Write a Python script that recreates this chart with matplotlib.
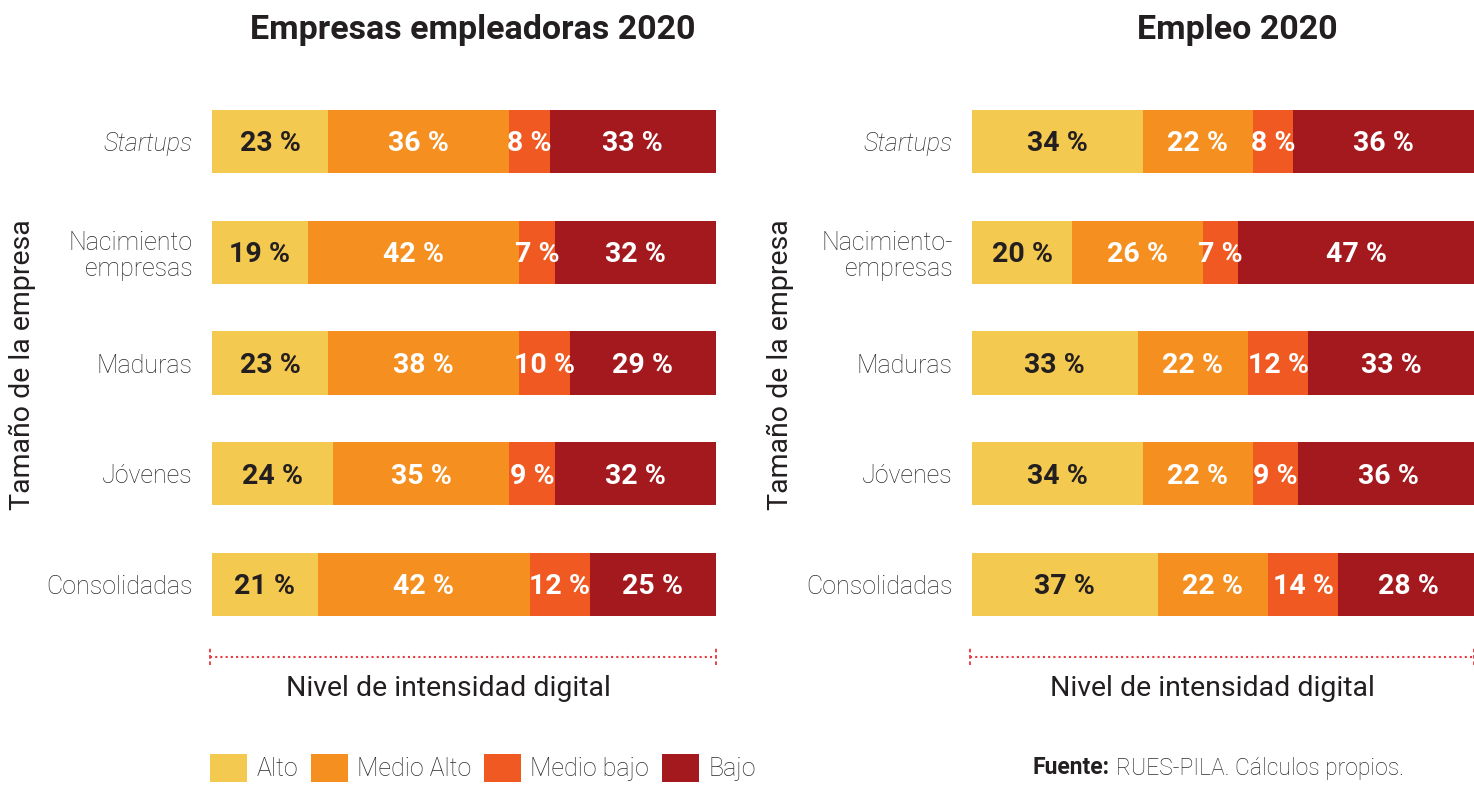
import matplotlib
matplotlib.use("Agg")
import matplotlib.pyplot as plt
from matplotlib.patches import Patch
import matplotlib.transforms as mtransforms

# ---- data ----
categories = ["Startups", "Nacimiento\nempresas", "Maduras", "Jóvenes", "Consolidadas"]
categories_right = ["Startups", "Nacimiento-\nempresas", "Maduras", "Jóvenes", "Consolidadas"]
levels = ["Alto", "Medio Alto", "Medio bajo", "Bajo"]

emp_alto = [23, 19, 23, 24, 21]
emp_medio_alto = [36, 42, 38, 35, 42]
emp_medio_bajo = [8, 7, 10, 9, 12]
emp_bajo = [33, 32, 29, 32, 25]

empleo_alto = [34, 20, 33, 34, 37]
empleo_medio_alto = [22, 26, 22, 22, 22]
empleo_medio_bajo = [8, 7, 12, 9, 14]
empleo_bajo = [36, 47, 33, 36, 28]

colors = ["#F4C950", "#F58F1F", "#F05A22", "#A3191E"]
text_colors = ["#231F20", "white", "white", "white"]

plt.rcParams['font.family'] = ['Roboto', 'DejaVu Sans']

fig = plt.figure(figsize=(14.74, 7.85), dpi=100)
W, H = 1474, 785

def axes_px(x0, x1, y0, y1):
    return fig.add_axes([x0 / W, 1 - y1 / H, (x1 - x0) / W, (y1 - y0) / H])

ax1 = axes_px(212, 716, 86, 640)
ax2 = axes_px(972, 1474, 86, 640)

def draw(ax, series, cats, title, title_x):
    left = [0] * len(cats)
    ypos = list(range(len(cats)))
    for i, vals in enumerate(series):
        ax.barh(ypos, vals, left=left, height=0.57, color=colors[i], edgecolor='none')
        for y, v, l in zip(ypos, vals, left):
            ax.text(l + v / 2, y + 0.02, f"{v} %", ha='center', va='center',
                    color=text_colors[i], fontsize=20.5, fontweight='bold')
        left = [a + b for a, b in zip(left, vals)]
    ax.set_xlim(0, 100)
    ax.set_ylim(4.5, -0.5)
    ax.set_yticks(ypos)
    ax.set_yticklabels(cats, fontsize=18, color='#2a2a2a', linespacing=1.1,
                       fontweight='light')
    ax.get_yticklabels()[0].set_fontstyle('italic')
    ax.tick_params(axis='y', length=0, pad=14)
    ax.set_xticks([])
    for s in ax.spines.values():
        s.set_visible(False)
    ax.patch.set_alpha(0)
    # dotted bracket line
    tr = mtransforms.blended_transform_factory(ax.transData, ax.transAxes)
    ax.plot([-0.4, 100], [-0.03, -0.03], transform=tr, color='#E8383D',
            linestyle=(0, (1, 1.5)), linewidth=1.5, clip_on=False)
    for xx in [-0.4, 100]:
        ax.plot([xx, xx], [-0.045, -0.015], transform=tr, color='#E8383D',
                linestyle=(0, (2, 1.5)), linewidth=1.3, clip_on=False)
    fig.text(title_x / W, 1 - 30 / H, title, ha='center', va='center',
             fontsize=24.5, fontweight='bold', color='#231F20')

draw(ax1, [emp_alto, emp_medio_alto, emp_medio_bajo, emp_bajo], categories,
     "Empresas empleadoras 2020", 473)
draw(ax2, [empleo_alto, empleo_medio_alto, empleo_medio_bajo, empleo_bajo], categories_right,
     "Empleo 2020", 1237)

# axis titles
for xc in [448, 1212]:
    fig.text(xc / W, 1 - 688 / H, "Nivel de intensidad digital", ha='center', va='center',
             fontsize=20.5, color='#231F20')
for xc in [22, 780]:
    fig.text(xc / W, 1 - 365 / H, "Tamaño de la empresa", ha='center', va='center',
             rotation=90, fontsize=20.5, color='#231F20')

# legend
handles = [Patch(facecolor=c, edgecolor='none') for c in colors]
leg = fig.legend(handles, levels, loc='center left', bbox_to_anchor=(210 / W, 1 - 768 / H),
                 ncol=4, frameon=False, fontsize=18, handlelength=1.5, handleheight=1.3,
                 handletextpad=0.36, columnspacing=0.5, labelcolor='#2a2a2a',
                 borderpad=0, borderaxespad=0)
for t in leg.get_texts():
    t.set_fontweight('light')

t1 = fig.text(1033 / W, 1 - 768 / H, "Fuente:", ha='left', va='center', fontsize=16.5,
              fontweight='bold', color='#231F20')
fig.canvas.draw()
bb = t1.get_window_extent()
fig.text((bb.x1 + 6) / W, 1 - 768 / H, "RUES-PILA. Cálculos propios.", ha='left', va='center',
         fontsize=16.5, fontweight='light', color='#2a2a2a')

fig.savefig("out.png", dpi=100)
